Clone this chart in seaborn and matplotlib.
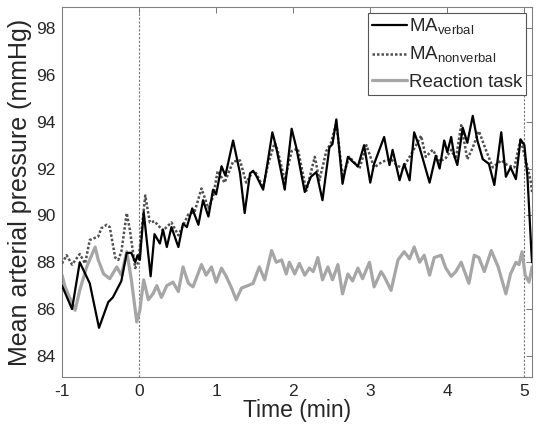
import pandas as pd
import matplotlib
matplotlib.use("Agg")
import matplotlib.pyplot as plt
import seaborn as sns

# MA verbal (black solid)
t_verbal = [-1.0, -0.87, -0.77, -0.64, -0.52, -0.40, -0.34, -0.23, -0.16, -0.10,
            -0.05, -0.02, 0.01, 0.06, 0.15, 0.20, 0.27, 0.31, 0.36, 0.42,
            0.51, 0.57, 0.62, 0.69, 0.77, 0.83, 0.90, 0.96, 1.00, 1.07,
            1.12, 1.22, 1.31, 1.37, 1.44, 1.48, 1.52, 1.61, 1.67, 1.73,
            1.78, 1.89, 1.98, 2.04, 2.15, 2.23, 2.30, 2.38, 2.47, 2.51,
            2.56, 2.64, 2.71, 2.77, 2.84, 2.92, 3.00, 3.05, 3.18, 3.25,
            3.29, 3.38, 3.44, 3.51, 3.57, 3.64, 3.77, 3.85, 3.90, 3.96,
            4.00, 4.05, 4.09, 4.13, 4.20, 4.26, 4.33, 4.39, 4.46, 4.54,
            4.61, 4.70, 4.76, 4.82, 4.89, 4.95, 5.00, 5.04, 5.09, 5.10]
v_verbal = [87.0, 86.0, 88.0, 87.1, 85.2, 86.3, 86.5, 87.2, 88.4, 88.4,
            88.0, 88.3, 88.1, 90.15, 87.4, 89.2, 88.8, 89.4, 88.65, 89.5,
            88.65, 89.65, 89.5, 90.3, 89.6, 90.65, 89.95, 91.1, 90.9, 92.1,
            91.7, 93.2, 91.8, 90.1, 91.8, 91.9, 91.7, 91.1, 92.3, 93.55,
            92.9, 91.1, 93.7, 92.9, 91.0, 91.65, 91.85, 90.65, 92.9, 93.05,
            94.1, 91.35, 92.5, 92.3, 92.1, 93.0, 91.4, 92.2, 93.35, 92.15,
            92.8, 91.5, 92.2, 91.5, 93.55, 92.9, 91.4, 92.55, 92.0, 93.2,
            92.7, 93.35, 92.55, 92.15, 93.75, 93.1, 94.25, 93.2, 92.4, 92.2,
            91.3, 93.55, 91.65, 92.05, 91.55, 93.25, 93.0, 91.65, 88.5, 88.0]

# MA nonverbal (dark grey dotted)
t_nonverbal = [-1.0, -0.94, -0.87, -0.77, -0.70, -0.64, -0.53, -0.49, -0.42, -0.38,
               -0.31, -0.27, -0.23, -0.16, -0.12, -0.05, -0.01, 0.08, 0.14, 0.20,
               0.31, 0.42, 0.51, 0.64, 0.72, 0.81, 0.90, 0.96, 1.02, 1.11,
               1.22, 1.31, 1.39, 1.48, 1.52, 1.61, 1.67, 1.76, 1.80, 1.89,
               1.98, 2.06, 2.17, 2.28, 2.34, 2.43, 2.49, 2.56, 2.64, 2.73,
               2.77, 2.86, 2.95, 3.05, 3.16, 3.27, 3.34, 3.42, 3.51, 3.57,
               3.66, 3.72, 3.81, 3.90, 3.98, 4.05, 4.11, 4.18, 4.26, 4.33,
               4.41, 4.50, 4.59, 4.70, 4.78, 4.87, 4.95, 5.03, 5.08, 5.10]
v_nonverbal = [87.95, 88.3, 87.9, 88.35, 87.95, 88.95, 89.1, 89.45, 89.6, 89.5,
               88.2, 88.1, 88.45, 90.1, 89.4, 87.75, 88.0, 90.85, 89.7, 89.75,
               89.35, 89.7, 89.15, 90.05, 90.15, 91.15, 90.3, 90.8, 91.9, 91.4,
               92.3, 92.35, 91.4, 91.9, 91.8, 91.2, 92.15, 93.1, 92.75, 91.5,
               92.75, 92.85, 91.05, 92.5, 91.5, 92.75, 93.1, 93.95, 91.65, 92.5,
               92.35, 92.0, 93.0, 92.05, 92.3, 92.4, 92.15, 92.0, 92.5, 92.85,
               93.4, 92.5, 92.8, 92.3, 92.45, 92.8, 92.4, 93.85, 92.4, 92.9,
               93.6, 92.8, 92.05, 92.35, 92.15, 92.05, 93.25, 92.2, 91.5, 91.0]

# Reaction task (light grey solid)
t_reaction = [-1.0, -0.96, -0.83, -0.77, -0.68, -0.57, -0.53, -0.46, -0.38, -0.29,
              -0.23, -0.16, -0.10, -0.03, 0.01, 0.06, 0.12, 0.18, 0.23, 0.29,
              0.36, 0.44, 0.51, 0.57, 0.64, 0.70, 0.81, 0.87, 0.94, 1.00,
              1.07, 1.13, 1.20, 1.26, 1.33, 1.41, 1.48, 1.56, 1.63, 1.72,
              1.78, 1.85, 1.91, 1.95, 2.02, 2.08, 2.15, 2.21, 2.26, 2.32,
              2.38, 2.45, 2.51, 2.58, 2.64, 2.71, 2.77, 2.84, 2.90, 2.99,
              3.05, 3.14, 3.18, 3.27, 3.36, 3.44, 3.51, 3.57, 3.64, 3.70,
              3.77, 3.83, 3.92, 3.98, 4.05, 4.11, 4.18, 4.28, 4.35, 4.41,
              4.48, 4.57, 4.66, 4.76, 4.82, 4.89, 4.93, 4.97, 5.01, 5.06,
              5.10]
v_reaction = [87.45, 86.95, 85.95, 86.8, 87.8, 88.65, 88.1, 87.5, 87.3, 87.8,
              87.45, 88.45, 87.25, 85.45, 85.95, 87.25, 86.4, 86.65, 87.0, 86.5,
              87.0, 87.15, 86.75, 87.8, 87.1, 86.95, 87.9, 87.45, 87.8, 87.15,
              87.75, 87.4, 86.9, 86.4, 86.9, 87.0, 87.1, 87.8, 87.25, 88.5,
              88.0, 88.1, 87.5, 88.0, 87.5, 87.95, 87.45, 87.75, 87.6, 88.2,
              87.25, 87.8, 87.25, 87.9, 86.65, 87.5, 87.2, 87.75, 87.3, 88.0,
              86.95, 87.6, 87.4, 86.8, 88.1, 88.45, 88.15, 88.65, 88.0, 88.3,
              87.45, 88.2, 88.3, 87.75, 87.4, 87.6, 88.0, 87.1, 88.3, 88.2,
              87.6, 88.5, 87.8, 86.65, 87.5, 88.0, 87.9, 88.45, 87.45, 87.15,
              87.8]

x_ticks = [-1, 0, 1, 2, 3, 4, 5]
y_ticks = [84, 86, 88, 90, 92, 94, 96, 98]
markers_at = [0, 5]

sns.set_style("white")
plt.rcParams['font.family'] = ['Liberation Sans', 'DejaVu Sans']
plt.rcParams['mathtext.fontset'] = 'custom'
plt.rcParams['mathtext.rm'] = 'Liberation Sans'
plt.rcParams['axes.unicode_minus'] = False

df_v = pd.DataFrame({'t': t_verbal, 'v': v_verbal})
df_n = pd.DataFrame({'t': t_nonverbal, 'v': v_nonverbal})
df_r = pd.DataFrame({'t': t_reaction, 'v': v_reaction})

fig = plt.figure(figsize=(5.36, 4.32), dpi=100)
ax = fig.add_axes([0.1157, 0.1273, 0.877, 0.8565])

for xm in markers_at:
    ax.axvline(xm, color='#777777', linestyle=(0, (2, 1.5)), linewidth=0.8, zorder=1)

sns.lineplot(data=df_r, x='t', y='v', ax=ax, color='#a6a6a6', linewidth=2.3,
             sort=False, estimator=None, label='Reaction task', zorder=2)
sns.lineplot(data=df_n, x='t', y='v', ax=ax, color='#505050', linewidth=1.8,
             sort=False, estimator=None, label=r'MA$_{\mathrm{nonverbal}}$', zorder=3)
ax.lines[-1].set_linestyle((0, (1, 0.8)))
sns.lineplot(data=df_v, x='t', y='v', ax=ax, color='black', linewidth=1.6,
             sort=False, estimator=None, label=r'MA$_{\mathrm{verbal}}$', zorder=4)

ax.set_xlim(-1, 5.1)
ax.set_ylim(83.1, 98.9)
ax.set_xticks(x_ticks)
ax.set_yticks(y_ticks)
ax.tick_params(direction='in', length=4, width=0.7, color='#777777',
               labelsize=12.5, top=True, right=True, pad=5)
for s in ax.spines.values():
    s.set_color('#808080')
    s.set_linewidth(0.8)

ax.set_xlabel('Time (min)', fontsize=16.5, labelpad=0)
ax.set_ylabel('Mean arterial pressure (mmHg)', fontsize=18, labelpad=3)

h, l = ax.get_legend_handles_labels()
order = [2, 1, 0]
leg = ax.legend([h[i] for i in order], [l[i] for i in order], loc='upper right',
                fontsize=13.5, frameon=True, fancybox=False, framealpha=1,
                edgecolor='#555555', handlelength=1.85, handletextpad=0.15,
                borderaxespad=0.3, borderpad=0.2, labelspacing=0.45)
leg.get_frame().set_linewidth(0.8)

plt.savefig('out.png', dpi=100)
plt.close()
